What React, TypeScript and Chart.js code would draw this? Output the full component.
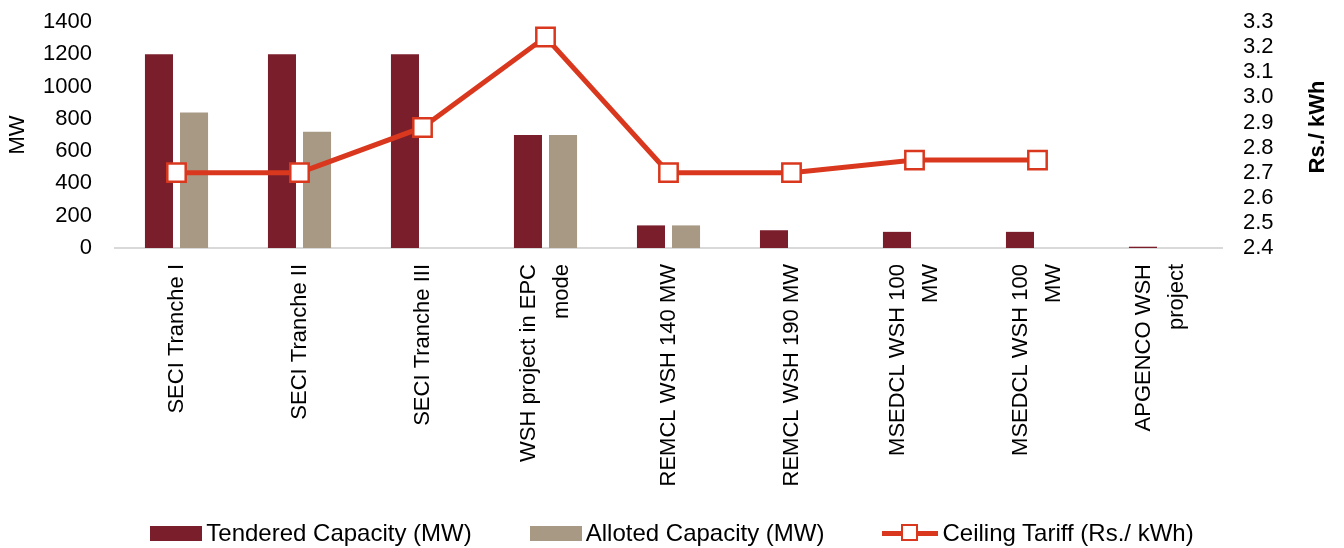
import React, { useEffect, useRef } from "react";
import { Chart, registerables } from "chart.js";

Chart.register(...registerables);

const categories: (string | string[])[] = [
  "SECI Tranche I",
  "SECI Tranche II",
  "SECI Tranche III",
  ["WSH project in EPC", "mode"],
  "REMCL WSH 140 MW",
  "REMCL WSH 190 MW",
  ["MSEDCL WSH 100", "MW"],
  ["MSEDCL WSH 100", "MW"],
  ["APGENCO WSH", "project"],
];

const tenderedCapacity = [1200, 1200, 1200, 700, 140, 110, 100, 100, 8];
const allotedCapacity: (number | null)[] = [840, 720, null, 700, 140, null, null, null, null];
const ceilingTariff: (number | null)[] = [2.7, 2.7, 2.88, 3.24, 2.7, 2.7, 2.75, 2.75, null];

const leftTicksMax = 1400;
const leftStep = 200;
const rightMin = 2.4;
const rightMax = 3.3;
const rightStep = 0.1;

const seriesNames = ["Tendered Capacity (MW)", "Alloted Capacity (MW)", "Ceiling Tariff (Rs./ kWh)"];
const leftTitle = "MW";
const rightTitle = "Rs./ kWh";

const COL_T = "#7B1E2B";
const COL_A = "#A89985";
const COL_L = "#D9381E";
const FONT = "'Liberation Sans', Arial, sans-serif";
const TICK_SIZE = 22;

export default function App() {
  const ref = useRef<HTMLCanvasElement | null>(null);

  useEffect(() => {
    document.body.style.margin = "0";
    const custom = {
      id: "customText",
      afterDraw(chart: any) {
        const ctx = chart.ctx;
        const a = chart.chartArea;
        const xs = chart.scales.x;
        ctx.save();
        ctx.fillStyle = "#000";
        // x labels, rotated, reading bottom-to-top, multi-line centred on tick
        ctx.font = `${TICK_SIZE}px ${FONT}`;
        ctx.textAlign = "right";
        ctx.textBaseline = "middle";
        const lh = TICK_SIZE * 1.5;
        categories.forEach((lab, i) => {
          const lines = Array.isArray(lab) ? lab : [lab];
          const px = xs.getPixelForValue(i);
          lines.forEach((ln, j) => {
            const off = (j - (lines.length - 1) / 2) * lh;
            ctx.save();
            ctx.translate(px + off, a.bottom + 16);
            ctx.rotate(-Math.PI / 2);
            ctx.fillText(ln, 0, 0);
            ctx.restore();
          });
        });
        ctx.textAlign = "center";
        ctx.save();
        ctx.translate(18, (a.top + a.bottom) / 2);
        ctx.rotate(-Math.PI / 2);
        ctx.font = `${TICK_SIZE}px ${FONT}`;
        ctx.fillText(leftTitle, 0, 0);
        ctx.restore();
        ctx.save();
        ctx.translate(1318, (a.top + a.bottom) / 2 - 8);
        ctx.rotate(-Math.PI / 2);
        ctx.font = `bold ${TICK_SIZE}px ${FONT}`;
        ctx.fillText(rightTitle, 0, 0);
        ctx.restore();
        ctx.restore();
      },
    };
    const chart = new Chart(ref.current as HTMLCanvasElement, {
      type: "bar",
      data: {
        labels: categories as any,
        datasets: [
          {
            type: "bar",
            label: seriesNames[0],
            data: tenderedCapacity,
            backgroundColor: COL_T,
            yAxisID: "y",
            categoryPercentage: 0.57,
            barPercentage: 0.8,
            order: 2,
          },
          {
            type: "bar",
            label: seriesNames[1],
            data: allotedCapacity,
            backgroundColor: COL_A,
            yAxisID: "y",
            categoryPercentage: 0.57,
            barPercentage: 0.8,
            order: 2,
          },
          {
            type: "line",
            label: seriesNames[2],
            data: ceilingTariff,
            borderColor: COL_L,
            borderWidth: 5,
            pointStyle: "rect",
            pointRadius: 13,
            pointBorderWidth: 2.5,
            pointBackgroundColor: "#fff",
            pointBorderColor: COL_L,
            yAxisID: "y1",
            order: 1,
            tension: 0,
          } as any,
        ],
      },
      options: {
        animation: false,
        responsive: false,
        maintainAspectRatio: false,
        layout: { padding: { top: 22, bottom: 45, left: 0, right: 0 } },
        plugins: {
          legend: { display: false },
          tooltip: { enabled: false },
        },
        scales: {
          x: {
            grid: { display: false, drawTicks: false },
            border: { display: true, color: "#d9d9d9", width: 2 },
            ticks: { display: false },
            afterFit: (s: any) => {
              s.height = 255;
            },
          },
          y: {
            position: "left",
            min: 0,
            max: leftTicksMax,
            grid: { display: false, drawTicks: true, tickLength: 23 },
            border: { display: false },
            ticks: {
              stepSize: leftStep,
              autoSkip: false,
              color: "#000",
              font: { size: TICK_SIZE, family: FONT },
              padding: 0,
              callback: (v: any) => String(v),
            },
            afterFit: (s: any) => {
              s.width = 115;
            },
          },
          y1: {
            position: "right",
            min: rightMin,
            max: rightMax,
            grid: { display: false, drawTicks: true, tickLength: 21 },
            border: { display: false },
            ticks: {
              stepSize: rightStep,
              autoSkip: false,
              color: "#000",
              font: { size: TICK_SIZE, family: FONT },
              padding: 0,
              callback: (v: any) => Number(v).toFixed(1),
            },
            afterFit: (s: any) => {
              s.width = 122;
            },
          },
        },
      },
      plugins: [custom],
    });
    return () => chart.destroy();
  }, []);

  const legendText: React.CSSProperties = {
    fontFamily: FONT,
    fontSize: 24,
    color: "#000",
    marginLeft: 4,
    whiteSpace: "nowrap",
  };

  return (
    <div style={{ position: "absolute", left: 0, top: 0, width: 1344, height: 548, background: "#fff" }}>
      <canvas ref={ref} width={1344} height={548} style={{ display: "block", width: 1344, height: 548 }} />
      <div
        style={{
          position: "absolute",
          left: 0,
          top: 518,
          width: 1344,
          height: 30,
          display: "flex",
          justifyContent: "center",
          alignItems: "center",
          gap: 58,
        }}
      >
        <div style={{ display: "flex", alignItems: "center" }}>
          <div style={{ width: 52, height: 15, background: COL_T }} />
          <span style={legendText}>{seriesNames[0]}</span>
        </div>
        <div style={{ display: "flex", alignItems: "center" }}>
          <div style={{ width: 52, height: 15, background: COL_A }} />
          <span style={legendText}>{seriesNames[1]}</span>
        </div>
        <div style={{ display: "flex", alignItems: "center" }}>
          <div style={{ position: "relative", width: 56, height: 22 }}>
            <div style={{ position: "absolute", left: 0, top: 8.5, width: 56, height: 5, background: COL_L }} />
            <div
              style={{
                position: "absolute",
                left: 19,
                top: 2,
                width: 13,
                height: 13,
                background: "#fff",
                border: `2.5px solid ${COL_L}`,
              }}
            />
          </div>
          <span style={legendText}>{seriesNames[2]}</span>
        </div>
      </div>
    </div>
  );
}
